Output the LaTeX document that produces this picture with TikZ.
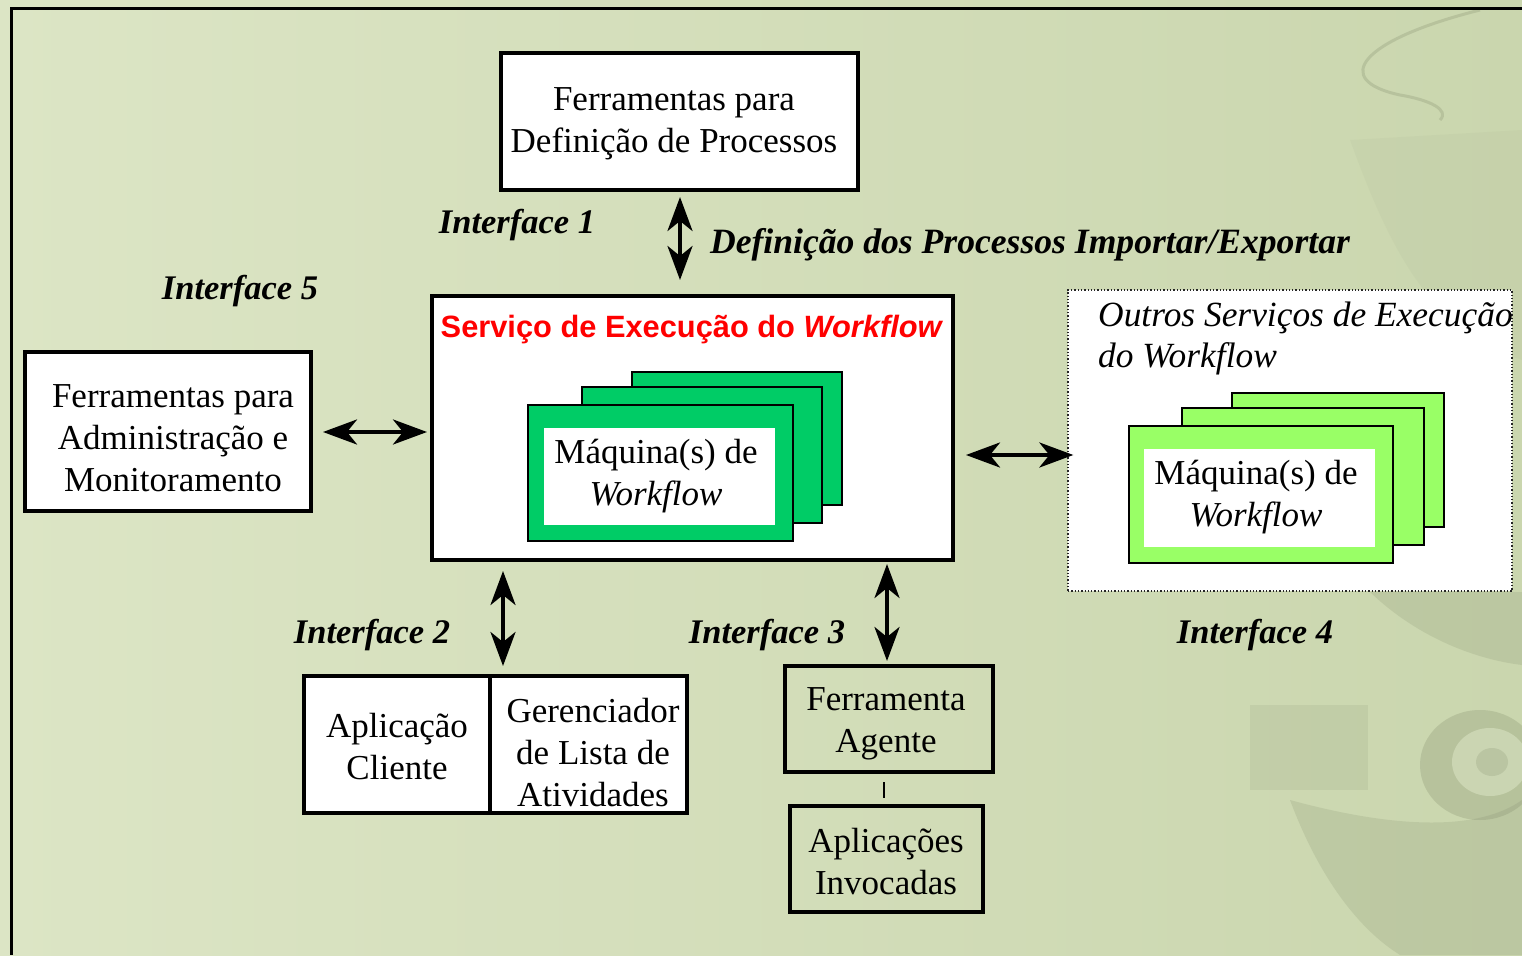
\documentclass[tikz,border=0pt]{standalone}
\usepackage{fontspec}
\setmainfont{Liberation Serif}
\newfontfamily\arialf{Liberation Sans}
\usetikzlibrary{arrows.meta,calc}
\definecolor{bgA}{HTML}{DCE5C5}
\definecolor{bgB}{HTML}{CAD6AE}
\definecolor{dkgreen}{HTML}{00CC66}
\definecolor{ltgreen}{HTML}{99FF66}
\definecolor{photo}{HTML}{7C8766}
\definecolor{titlered}{HTML}{FF0000}
\tikzset{
  txt/.style={font=\fontsize{35}{42}\selectfont, align=center, inner sep=0pt},
  box/.style={draw, line width=4pt, inner sep=0pt},
  ilabel/.style={font=\fontsize{34.5}{40}\selectfont\bfseries\itshape, inner sep=0pt},
  dbl/.style={line width=4pt, {Stealth[length=34pt,width=25pt,inset=10pt]}-{Stealth[length=34pt,width=25pt,inset=10pt]}},
  card/.style={draw, line width=2pt, inner sep=0pt},
}
\begin{document}
\begin{tikzpicture}[x=1pt,y=-1pt]
% background
\shade[left color=bgA, right color=bgB] (0,0) rectangle (1522,955);
\useasboundingbox (0,0) rectangle (1522,955);
% faint photo hints on the right
\fill[photo, opacity=0.05] (1350,140) .. controls (1390,250) and (1430,330) .. (1522,360) -- (1522,130) -- cycle;
\draw[photo, opacity=0.25, line width=3pt] (1480,10) .. controls (1360,40) and (1330,80) .. (1400,95) .. controls (1430,100) and (1450,110) .. (1440,120);
\fill[photo, opacity=0.13] (1250,705) rectangle (1368,790);
\fill[photo, opacity=0.18] (1370,592) .. controls (1420,640) and (1480,660) .. (1522,665) -- (1522,592) -- cycle;
\fill[photo, opacity=0.18] (1290,800) .. controls (1320,880) and (1360,930) .. (1400,955) -- (1522,955) -- (1522,800) .. controls (1480,830) and (1400,830) .. (1290,800) -- cycle;
\fill[photo, opacity=0.25] (1480,765) ellipse (60 and 55);
\fill[bgA, opacity=0.55] (1490,762) ellipse (38 and 34);
\fill[photo, opacity=0.2] (1492,762) ellipse (16 and 14);
% frame
\draw[line width=3pt] (1522,9) -- (11,9) -- (11,955);

% top box
\node[box, fill=white, minimum width=357pt, minimum height=137pt] (def) at (679.5,121.5) {};
\node[txt] (deft) at (674,124) {Ferramentas para\\Definição de Processos};

% central box
\node[box, fill=white, minimum width=521pt, minimum height=264pt] (cen) at (692.5,428) {};
\node[inner sep=0pt, text=titlered, font=\arialf\fontsize{30.8}{36}\selectfont\bfseries] (centitle) at (692,330) {Serviço de Execução do \textit{Workflow}};
% dark green stack
\node[card, fill=dkgreen, minimum width=210pt, minimum height=133pt] (g3) at (737,438.5) {};
\node[card, fill=dkgreen, minimum width=240pt, minimum height=136pt] (g2) at (702,455) {};
\node[card, fill=dkgreen, minimum width=265pt, minimum height=136pt] (g1) at (660.5,473) {};
\node[fill=white, minimum width=231pt, minimum height=97pt, inner sep=0pt] (g1w) at (659.5,476.5) {};
\node[txt] (g1t) at (656,476.5) {Máquina(s) de\\\textit{Workflow}};

% left box
\node[box, fill=white, minimum width=286pt, minimum height=159pt] (adm) at (168,431.5) {};
\node[txt] (admt) at (173,438) {Ferramentas para\\Administração e\\Monitoramento};

% right dotted box
\node[draw=black!85, dotted, line width=1.3pt, fill=white, minimum width=444pt, minimum height=301pt, inner sep=0pt] (out) at (1290,440.5) {};
\node[txt, align=left, anchor=west, font=\fontsize{35.4}{41}\selectfont\itshape] (outt) at (1098,338.5) {Outros Serviços de Execução\\do Workflow};
% light green stack
\node[card, fill=ltgreen, minimum width=212pt, minimum height=134pt] (l3) at (1338,460) {};
\node[card, fill=ltgreen, minimum width=242pt, minimum height=137pt] (l2) at (1303,476.5) {};
\node[card, fill=ltgreen, minimum width=264pt, minimum height=137pt] (l1) at (1261,494.5) {};
\node[fill=white, minimum width=231pt, minimum height=98pt, inner sep=0pt] (l1w) at (1259.5,498) {};
\node[txt] (l1t) at (1256,497.5) {Máquina(s) de\\\textit{Workflow}};

% bottom split box
\node[box, fill=white, minimum width=186pt, minimum height=137pt] (cli) at (397,744.5) {};
\node[box, fill=white, minimum width=197pt, minimum height=137pt] (ger) at (588.5,744.5) {};
\node[txt] (clit) at (397,747) {Aplicação\\Cliente};
\node[txt] (gert) at (593,753) {Gerenciador\\de Lista de\\Atividades};

% agente / aplicacoes
\node[box, minimum width=208pt, minimum height=106pt] (age) at (889,719) {};
\node[txt] (aget) at (886,724) {Ferramenta\\Agente};
\node[box, minimum width=193pt, minimum height=106pt] (inv) at (886.5,859) {};
\node[txt] (invt) at (886,861.5) {Aplicações\\Invocadas};

% labels
\node[ilabel] (i1) at (517,225) {Interface 1};
\node[ilabel, font=\fontsize{35.6}{40}\selectfont\bfseries\itshape] (dpl) at (1030,245) {Definição dos Processos Importar/Exportar};
\node[ilabel] (i5) at (240,291) {Interface 5};
\node[ilabel] (i2) at (372,635) {Interface 2};
\node[ilabel] (i3) at (767,635) {Interface 3};
\node[ilabel] (i4) at (1255,635) {Interface 4};

% connectors
\coordinate (x1) at (680,0);
\coordinate (x2) at (503,0);
\coordinate (x3) at (887,0);
\coordinate (xl) at (884,0);
\coordinate (y5) at (0,432);
\coordinate (y4) at (0,455);
\draw[dbl, shorten <=5pt, shorten >=14pt] (def.south -| x1) -- (cen.north -| x1);
\draw[dbl, shorten <=10pt, shorten >=3pt] (adm.east |- y5) -- (cen.west |- y5);
\draw[dbl, shorten <=11pt, shorten >=-6pt] (cen.east |- y4) -- (out.west |- y4);
\draw[dbl, shorten <=9pt, shorten >=8pt] (cen.south -| x2) -- (ger.north -| x2);
\draw[dbl, shorten <=2pt, shorten >=3pt] (cen.south -| x3) -- (age.north -| x3);
\draw[line width=2pt, shorten <=8pt, shorten >=6pt] (age.south -| xl) -- (inv.north -| xl);
\end{tikzpicture}
\end{document}
